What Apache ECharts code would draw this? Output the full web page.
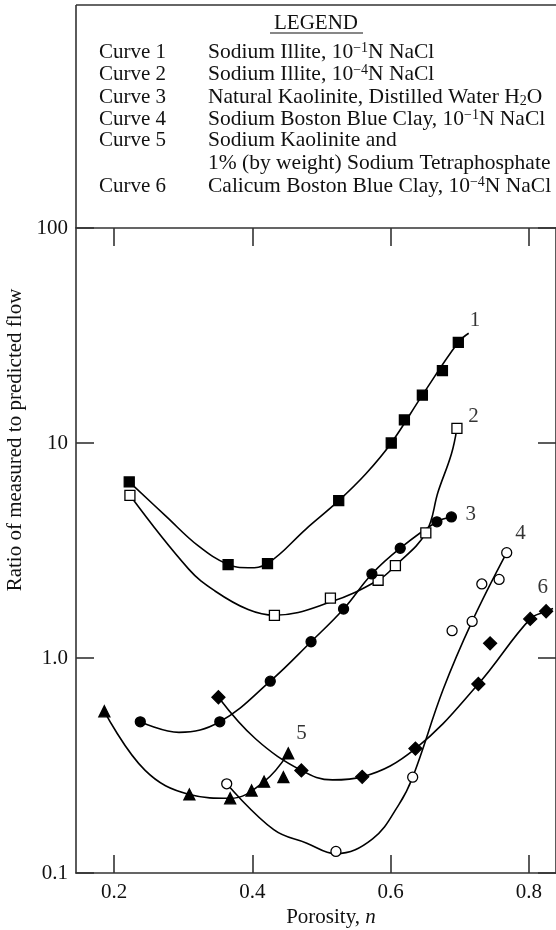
<!DOCTYPE html>
<html>
<head>
<meta charset="utf-8">
<script src="https://cdn.jsdelivr.net/npm/echarts@6/dist/echarts.min.js"></script>
<style>
html, body { margin: 0; padding: 0; background: #fff; }
#chart { width: 556px; height: 930px; }
</style>
</head>
<body>
<div id="chart"></div>
<script>
// values: [porosity n, ratio]
var xTicks = [0.2, 0.4, 0.6, 0.8];

var c1Pts = [[0.222, 6.59], [0.365, 2.72], [0.422, 2.75], [0.525, 5.39], [0.601, 10.0],
	[0.620, 12.8], [0.646, 16.7], [0.675, 21.7], [0.698, 29.4]];
var c1Line = [[0.222, 6.59], [0.275, 4.57], [0.322, 3.32], [0.365, 2.72], [0.394, 2.63], [0.422, 2.75],
	[0.478, 3.99], [0.525, 5.39], [0.564, 7.17], [0.601, 10.0], [0.646, 16.7], [0.698, 29.4], [0.713, 32.4]];

var c2Pts = [[0.223, 5.71], [0.432, 1.58], [0.513, 1.90], [0.582, 2.30], [0.607, 2.69],
	[0.651, 3.82], [0.696, 11.7]];
var c2Line = [[0.223, 5.71], [0.308, 2.59], [0.346, 2.05], [0.394, 1.68], [0.432, 1.58], [0.513, 1.82],
	[0.582, 2.30], [0.607, 2.69], [0.651, 3.82], [0.669, 5.96], [0.688, 8.89], [0.696, 11.7]];

var c3Pts = [[0.238, 0.505], [0.353, 0.505], [0.426, 0.78], [0.485, 1.19], [0.532, 1.69],
	[0.573, 2.46], [0.614, 3.24], [0.667, 4.30], [0.688, 4.53]];
var c3Line = [[0.238, 0.505], [0.294, 0.451], [0.353, 0.505], [0.426, 0.78], [0.485, 1.19],
	[0.532, 1.69], [0.573, 2.46], [0.614, 3.24], [0.667, 4.30], [0.688, 4.53]];

var c4Pts = [[0.363, 0.26], [0.521, 0.126], [0.632, 0.279], [0.689, 1.34], [0.718, 1.48],
	[0.732, 2.21], [0.757, 2.32], [0.768, 3.09]];
var c4Line = [[0.363, 0.26], [0.431, 0.159], [0.478, 0.138], [0.521, 0.123], [0.574, 0.144],
	[0.612, 0.208], [0.632, 0.279], [0.676, 0.713], [0.718, 1.48], [0.768, 3.09]];

var c5Pts = [[0.186, 0.565], [0.309, 0.232], [0.368, 0.2225], [0.399, 0.242], [0.417, 0.266],
	[0.445, 0.279], [0.452, 0.36]];
var c5Line = [[0.186, 0.565], [0.245, 0.30], [0.309, 0.232], [0.368, 0.2225],
	[0.417, 0.266], [0.452, 0.36]];

var c6Pts = [[0.351, 0.657], [0.471, 0.30], [0.559, 0.28], [0.636, 0.379], [0.727, 0.757],
	[0.744, 1.17], [0.802, 1.52], [0.825, 1.65]];
var c6Line = [[0.351, 0.657], [0.405, 0.42], [0.471, 0.30], [0.516, 0.271],
	[0.559, 0.28], [0.636, 0.379], [0.727, 0.757], [0.802, 1.52], [0.825, 1.65], [0.835, 1.70]];

var curveLabels = [['1', 0.722, 37], ['2', 0.720, 13.3], ['3', 0.716, 4.64],
	['4', 0.788, 3.80], ['5', 0.471, 0.447], ['6', 0.820, 2.12]];

var legendNames = ['Curve 1', 'Curve 2', 'Curve 3', 'Curve 4', 'Curve 5', '', 'Curve 6'];
var legendTexts = [
	'{a|Sodium Illite, 10}{s|\u22121}{a|N NaCl}',
	'{a|Sodium Illite, 10}{s|\u22124}{a|N NaCl}',
	'{a|Natural Kaolinite, Distilled Water H}{d|2}{a|O}',
	'{a|Sodium Boston Blue Clay, 10}{s|\u22121}{a|N NaCl}',
	'{a|Sodium Kaolinite and}',
	'{a|1% (by weight) Sodium Tetraphosphate}',
	'{a|Calicum Boston Blue Clay, 10}{s|\u22124}{a|N NaCl}'
];

var FONT = 'Liberation Serif';
var INK = '#111';
var AX = '#333';

var myChart = echarts.init(document.getElementById('chart'));

var pointSets = [c1Pts, c2Pts, c3Pts, c4Pts, c5Pts, c6Pts];
var lineSets = [c1Line, c2Line, c3Line, c4Line, c5Line, c6Line];
var markers = [
	{ symbol: 'rect', size: 10, fill: '#000' },
	{ symbol: 'rect', size: 10, fill: '#fff' },
	{ symbol: 'circle', size: 10, fill: '#000' },
	{ symbol: 'circle', size: 10, fill: '#fff' },
	{ symbol: 'triangle', size: 11, fill: '#000' },
	{ symbol: 'diamond', size: 13, fill: '#000' }
];

var series = [];
for (var i = 0; i < 6; i++) {
	series.push({
		name : 'curve' + (i + 1),
		type : 'line',
		data : lineSets[i],
		smooth : 0.4,
		symbol : 'none',
		lineStyle : { color : '#000', width : 1.6 },
		z : 2
	});
	series.push({
		name : 'points' + (i + 1),
		type : 'scatter',
		data : pointSets[i],
		symbol : markers[i].symbol,
		symbolSize : markers[i].size,
		itemStyle : { color : markers[i].fill, borderColor : '#000', borderWidth : 1.3, opacity : 1 },
		z : 3
	});
}
series.push({
	name : 'labels',
	type : 'scatter',
	symbolSize : 0,
	itemStyle : { color : '#000' },
	data : curveLabels.map(function(d) { return { name : d[0], value : [d[1], d[2]] }; }),
	label : {
		show : true,
		position : 'inside',
		formatter : '{b}',
		color : '#000',
		textBorderWidth : 0,
		fontSize : 21,
		fontFamily : FONT
	},
	z : 4
});

// legend box
var graphics = [
	{ type : 'line', shape : { x1 : 76, y1 : 5, x2 : 556, y2 : 5 }, style : { stroke : AX, lineWidth : 1.6 } },
	{ type : 'line', shape : { x1 : 76, y1 : 5, x2 : 76, y2 : 228 }, style : { stroke : AX, lineWidth : 1.6 } },
	{ type : 'text', x : 316, y : 23, style : { text : 'LEGEND', font : '21px "Liberation Serif"', fill : INK, align : 'center', verticalAlign : 'middle' } },
	{ type : 'line', shape : { x1 : 270, y1 : 33, x2 : 363, y2 : 33 }, style : { stroke : INK, lineWidth : 1.2 } },
	{ type : 'text', x : 15, y : 440, rotation : Math.PI / 2,
		style : { text : 'Ratio of measured to predicted flow', font : '21px "Liberation Serif"', fill : INK, align : 'center', verticalAlign : 'middle' } },
	{ type : 'text', x : 331, y : 917,
		style : { text : '{a|Porosity, }{i|n}', align : 'center', verticalAlign : 'middle', fill : INK,
			rich : { a : { fontSize : 21, fontFamily : FONT, fill : INK }, i : { fontSize : 21, fontFamily : FONT, fontStyle : 'italic', fill : INK } } } }
];
var rowY = [52, 74, 97, 119, 140, 163, 186];
for (var r = 0; r < rowY.length; r++) {
	if (legendNames[r]) {
		graphics.push({ type : 'text', x : 99, y : rowY[r],
			style : { text : legendNames[r], font : '21px "Liberation Serif"', fill : INK, align : 'left', verticalAlign : 'middle' } });
	}
	graphics.push({ type : 'text', x : 208, y : rowY[r],
		style : {
			text : legendTexts[r], align : 'left', verticalAlign : 'middle', fill : INK,
			rich : {
				a : { fontSize : 21.5, fontFamily : FONT, lineHeight : 22, fill : INK },
				s : { fontSize : 14, fontFamily : FONT, lineHeight : 11, verticalAlign : 'top', fill : INK },
				d : { fontSize : 14, fontFamily : FONT, lineHeight : 11, verticalAlign : 'bottom', fill : INK }
			}
		}
	});
}

function yFmt(v) {
	if (Math.abs(v - 1) < 1e-9) return '1.0';
	if (v < 0.5) return '0.1';
	return String(Math.round(v));
}

var axisLineStyle = { color : AX, width : 1.6 };

var option = {
	animation : false,
	backgroundColor : '#fff',
	grid : { left : 76, right : -6, top : 228, bottom : 57, containLabel : false },
	xAxis : [ {
		type : 'value',
		position : 'bottom',
		min : 0.145,
		max : 0.8393,
		axisLine : { show : true, onZero : false, lineStyle : axisLineStyle },
		axisTick : { show : true, inside : true, length : 18, customValues : xTicks, lineStyle : axisLineStyle },
		axisLabel : { show : true, customValues : xTicks, margin : 9, color : INK, fontSize : 21, fontFamily : FONT,
			formatter : function(v) { return v.toFixed(1); } },
		splitLine : { show : false }
	}, {
		type : 'value',
		position : 'top',
		min : 0.145,
		max : 0.8393,
		axisLine : { show : true, onZero : false, lineStyle : axisLineStyle },
		axisTick : { show : true, inside : true, length : 18, customValues : xTicks, lineStyle : axisLineStyle },
		axisLabel : { show : false },
		splitLine : { show : false }
	} ],
	yAxis : [ {
		type : 'log',
		logBase : 10,
		position : 'left',
		min : 0.1,
		max : 100,
		axisLine : { show : true, onZero : false, lineStyle : axisLineStyle },
		axisTick : { show : true, inside : true, length : 18, lineStyle : axisLineStyle },
		minorTick : { show : false },
		axisLabel : { show : true, margin : 8, color : INK, fontSize : 21, fontFamily : FONT, formatter : yFmt },
		splitLine : { show : false }
	}, {
		type : 'log',
		logBase : 10,
		position : 'right',
		min : 0.1,
		max : 100,
		axisLine : { show : true, onZero : false, lineStyle : axisLineStyle },
		axisTick : { show : true, inside : true, length : 18, lineStyle : axisLineStyle },
		minorTick : { show : false },
		axisLabel : { show : false },
		splitLine : { show : false }
	} ],
	graphic : graphics,
	series : series
};

myChart.setOption(option);
</script>
</body>
</html>
